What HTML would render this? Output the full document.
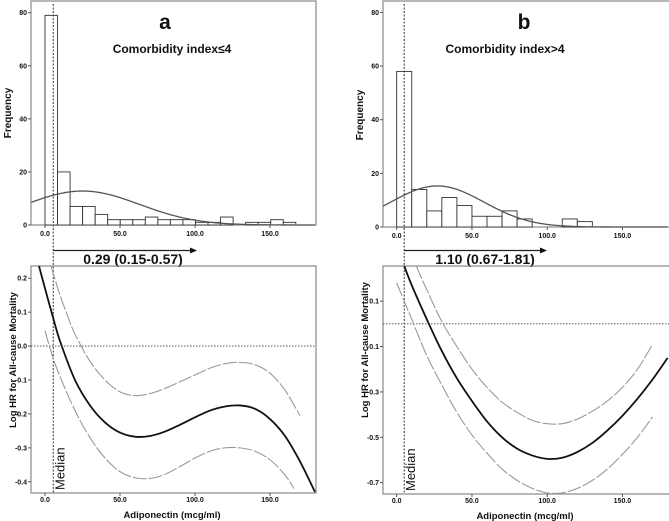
<!DOCTYPE html>
<html><head><meta charset="utf-8"><style>
body{margin:0;background:#fff}
svg{display:block;font-family:"Liberation Sans",sans-serif}
</style></head><body>
<svg id="c" width="669" height="521" viewBox="0 0 669 521"></svg>
<script>
// ---------- data ----------
const xTicks=[0,50,100,150];
const freqTicks=[0,20,40,60,80];
const histA=[79,20,7,7,4,2,2,2,3,2,2,2,1,1,3,0,1,1,2,1];
const binWA=8.36;
const histB=[58,14,6,11,8,4,4,6,3,0,0,3,2];
const binWB=10;
const normA=[25,38,12.8]; // mean, sd, peak
const normB=[27,31,15.3];
const medianA=5.5, medianB=5;
const hrTicksA=[0.2,0.1,0.0,-0.1,-0.2,-0.3,-0.4];
const hrTicksB=[0.1,-0.1,-0.3,-0.5,-0.7];
const mainAx=[-4,0,5,10,20,30,40,50,60,70,80,90,100,110,120,130,140,150,160,170,180];
const mainAy=[0.236,0.17,0.09,0.015,-0.10,-0.175,-0.225,-0.255,-0.267,-0.265,-0.252,-0.232,-0.21,-0.19,-0.178,-0.175,-0.185,-0.215,-0.265,-0.34,-0.43];
const upAx=[4,10,15,20,30,40,50,60,70,80,90,100,110,120,130,140,150,160,170];
const upAy=[0.236,0.15,0.09,0.035,-0.045,-0.10,-0.135,-0.146,-0.14,-0.125,-0.105,-0.085,-0.065,-0.052,-0.048,-0.055,-0.08,-0.13,-0.205];
const loAx=[0,5,10,20,30,40,50,60,70,80,90,100,110,120,130,140,150,160,166];
const loAy=[0.045,-0.03,-0.09,-0.19,-0.27,-0.33,-0.37,-0.388,-0.39,-0.378,-0.355,-0.33,-0.31,-0.30,-0.30,-0.31,-0.335,-0.38,-0.42];
const mainBx=[5,10,20,30,40,50,60,70,80,90,100,110,120,130,140,150,160,170,180];
const mainBy=[0.255,0.17,0.02,-0.12,-0.24,-0.34,-0.43,-0.50,-0.55,-0.58,-0.595,-0.59,-0.565,-0.525,-0.47,-0.405,-0.33,-0.245,-0.15];
const upBx=[13,20,30,40,50,60,70,80,90,100,110,120,130,140,150,160,170];
const upBy=[0.255,0.15,0.01,-0.10,-0.20,-0.28,-0.345,-0.39,-0.425,-0.44,-0.44,-0.42,-0.385,-0.34,-0.28,-0.20,-0.09];
const loBx=[0,5,10,20,30,40,50,60,70,80,90,100,110,120,130,140,150,160,170];
const loBy=[0.18,0.1,0.02,-0.14,-0.27,-0.39,-0.49,-0.57,-0.64,-0.69,-0.725,-0.745,-0.745,-0.725,-0.69,-0.64,-0.575,-0.50,-0.41];

const svg=document.getElementById('c');
const NS='http://www.w3.org/2000/svg';
function mk(tag,attrs,parent){const e=document.createElementNS(NS,tag);for(const k in attrs)e.setAttribute(k,attrs[k]);(parent||svg).appendChild(e);return e;}
function txt(s,x,y,size,weight,anchor,parent,rot){const t=mk('text',{x:x,y:y,'font-size':size,'font-weight':weight,'text-anchor':anchor||'middle',fill:'#111'},parent);if(rot)t.setAttribute('transform','rotate(-90 '+x+' '+y+')');t.textContent=s;return t;}
function spline(xs,ys,sx,sy){const p=xs.map((x,i)=>[sx(x),sy(ys[i])]);let d='M'+p[0][0]+','+p[0][1];for(let i=0;i<p.length-1;i++){const p0=p[i-1]||p[i],p1=p[i],p2=p[i+1],p3=p[i+2]||p2;d+=' C'+(p1[0]+(p2[0]-p0[0])/6)+','+(p1[1]+(p2[1]-p0[1])/6)+' '+(p2[0]-(p3[0]-p1[0])/6)+','+(p2[1]-(p3[1]-p1[1])/6)+' '+p2[0]+','+p2[1];}return d;}

function panel(o){
  const g=mk('g',{});
  
  
  const fx=v=>o.x0+v*o.xs;
  // ---------- histogram ----------
  const hy=v=>o.hb-(v/80)*o.hh;
  const fr=mk('rect',{x:o.L,y:1,width:o.R-o.L,height:o.hb-1,fill:'none',stroke:'#888','stroke-width':1.2},g);
  
  o.hist.forEach((h,i)=>{if(h<=0)return;const r=mk('rect',{x:fx(i*o.bw),y:hy(h),width:o.bw*o.xs,height:hy(0)-hy(h),fill:'#fff',stroke:'#333','stroke-width':0.9},g);
    });
  let nd='';for(let v=o.xmin;v<=o.xmax;v+=1){const y=o.norm[2]*Math.exp(-((v-o.norm[0])**2)/(2*o.norm[1]**2));nd+=(nd?'L':'M')+fx(v)+','+hy(y);}
  const nc=mk('path',{d:nd,fill:'none',stroke:'#555','stroke-width':1.3},g);
  
  freqTicks.forEach(t=>{mk('line',{x1:o.L-3,x2:o.L,y1:hy(t),y2:hy(t),stroke:'#555'},g);const l=txt(String(t),o.L-4,hy(t)+2.5,7,'bold','end',g);});
  xTicks.forEach(t=>{mk('line',{x1:fx(t),x2:fx(t),y1:o.hb,y2:o.hb+3,stroke:'#555'},g);const l=txt(t.toFixed(1),fx(t),o.hb+11,7,'bold','middle',g);});
  const yl=txt('Frequency',o.L-20,o.hb-112,10,'bold','middle',g,true);
  const lt=txt(o.letter,o.letterX,29,21,'bold','middle',g);
  const st=txt(o.sub,o.subX,53,12,'bold','middle',g);
  // ---------- median + arrow ----------
  const mx=fx(o.med);
  const ml=mk('line',{x1:mx,x2:mx,y1:4,y2:o.bb,stroke:'#333','stroke-width':1,'stroke-dasharray':'2,1.5'},g);
  
  const ar=mk('line',{x1:mx,x2:o.arrowEnd-6,y1:250.5,y2:250.5,stroke:'#222','stroke-width':1.2},g);
  
  mk('polygon',{points:(o.arrowEnd)+',250.5 '+(o.arrowEnd-7)+',247.5 '+(o.arrowEnd-7)+',253.5',fill:'#111'},g);
  const ht=txt(o.hr,o.hrX,264,14,'bold','middle',g);
  // ---------- spline plot ----------
  const sy=v=>o.bt+(o.ymax-v)/(o.ymax-o.ymin)*(o.bb-o.bt);
  const cp=mk('clipPath',{id:'cp'+o.letter},g);mk('rect',{x:o.L,y:o.bt,width:o.R-o.L,height:o.bb-o.bt},cp);
  const bf=mk('rect',{x:o.L,y:o.bt,width:o.R-o.L,height:o.bb-o.bt,fill:'none',stroke:'#888','stroke-width':1.2},g);
  
  const zl=mk('line',{x1:o.L,x2:o.R,y1:sy(0),y2:sy(0),stroke:'#444','stroke-width':0.9,'stroke-dasharray':'1.5,1.5'},g);
  
  const cg=mk('g',{'clip-path':'url(#cp'+o.letter+')'},g);
  const u=mk('path',{d:spline(o.ux,o.uy,fx,sy),fill:'none',stroke:'#999','stroke-width':1.1,'stroke-dasharray':'14,2'},cg);
  
  const lw=mk('path',{d:spline(o.lx,o.ly,fx,sy),fill:'none',stroke:'#999','stroke-width':1.1,'stroke-dasharray':'14,2'},cg);
  
  const m=mk('path',{d:spline(o.mx,o.my,fx,sy),fill:'none',stroke:'#111','stroke-width':1.8},cg);
  
  o.hrTicks.forEach(t=>{mk('line',{x1:o.L-3,x2:o.L,y1:sy(t),y2:sy(t),stroke:'#555'},g);const l=txt(t.toFixed(1),o.L-4,sy(t)+2.5,7,'bold','end',g);});
  xTicks.forEach(t=>{mk('line',{x1:fx(t),x2:fx(t),y1:o.bb,y2:o.bb+3,stroke:'#555'},g);const l=txt(t.toFixed(1),fx(t),o.bb+9,7,'bold','middle',g);});
  const xt=txt('Adiponectin (mcg/ml)',o.xtX,o.bb+25,9.5,'bold','middle',g);
  const yt=txt('Log HR for All-cause Mortality',o.L-15,o.ytY,9.5,'bold','middle',g,true);
  const md=txt('Median',mx+11,o.bb-3,13,'normal','start',g,true);
}
panel({name:'panel-a',letter:'a',L:31,R:316,x0:45,xmin:-9,xmax:180,xs:1.5,hb:225,hh:212.3,hist:histA,bw:binWA,norm:normA,
  sub:'Comorbidity index\u22644',letterX:165,subX:172,med:medianA,arrowEnd:197,hr:'0.29 (0.15-0.57)',hrX:133,
  bt:266,bb:493,ymax:0.236,ymin:-0.433,hrTicks:hrTicksA,mx:mainAx,my:mainAy,ux:upAx,uy:upAy,lx:loAx,ly:loAy,xtX:172,ytY:360});
panel({name:'panel-b',letter:'b',L:383,R:670,x0:396.7,xmin:-9,xmax:180,xs:1.505,hb:227,hh:214.6,hist:histB,bw:binWB,norm:normB,
  sub:'Comorbidity index>4',letterX:524,subX:505,med:medianB,arrowEnd:547,hr:'1.10 (0.67-1.81)',hrX:485,
  bt:266,bb:494,ymax:0.255,ymin:-0.75,hrTicks:hrTicksB,mx:mainBx,my:mainBy,ux:upBx,uy:upBy,lx:loBx,ly:loBy,xtX:525,ytY:350});
</script>
</body></html>
